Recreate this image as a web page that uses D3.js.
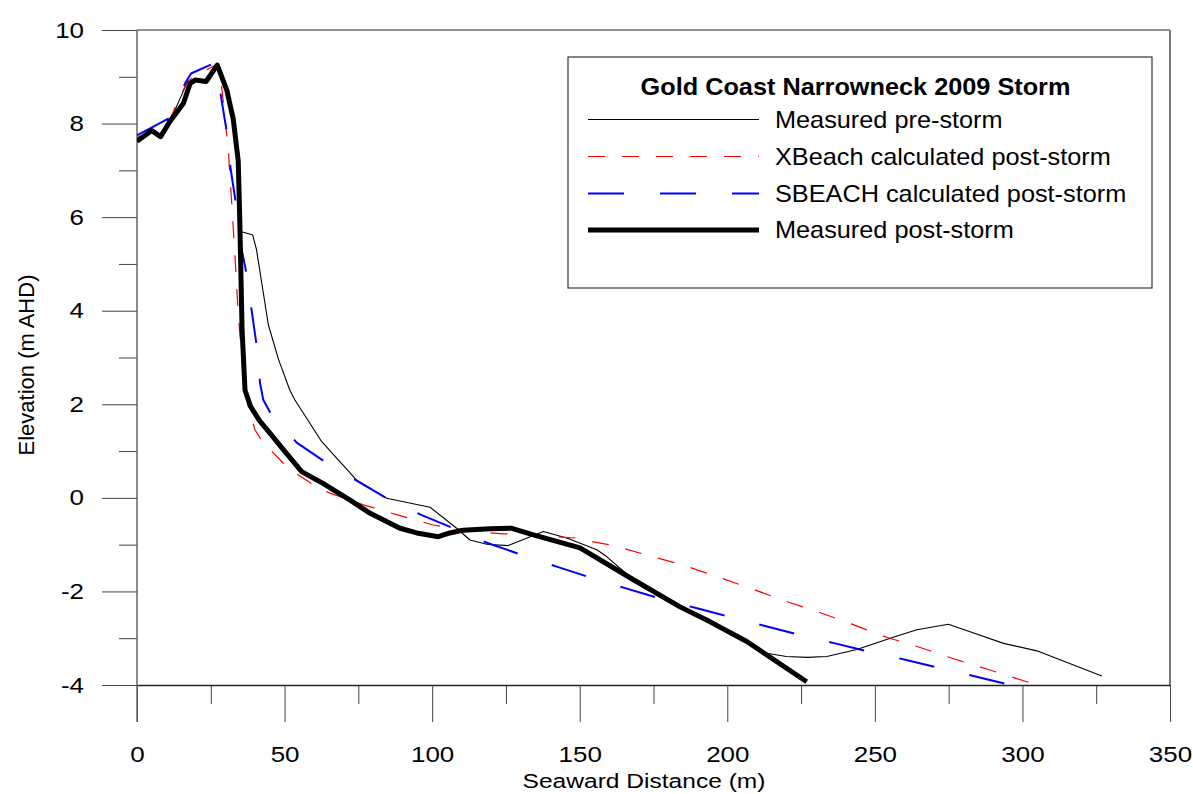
<!DOCTYPE html>
<html>
<head>
<meta charset="utf-8">
<script src="https://cdn.jsdelivr.net/npm/d3@7"></script>
<style>
  html, body { margin: 0; padding: 0; background: #fff; }
  svg { display: block; font-family: "Liberation Sans", Arial, sans-serif; }
</style>
</head>
<body>
<svg id="chart" width="1193" height="794"></svg>
<script>
// ---- Data ----
const seriesNames = ["Measured pre-storm", "XBeach calculated post-storm", "SBEACH calculated post-storm", "Measured post-storm"];
const legendTitle = "Gold Coast Narrowneck 2009 Storm";
const xTicks = [0, 50, 100, 150, 200, 250, 300, 350];
const xMinorTicks = [25, 75, 125, 175, 225, 275, 325];
const yTicks = [-4, -2, 0, 2, 4, 6, 8, 10];
const yMinorTicks = [-3, -1, 1, 3, 5, 7, 9];

const preDist = [0, 5, 8, 11.2, 17, 19.7, 23.4, 27.2, 30.4, 32.6, 34.3, 34.9, 39.2, 40.5, 44.5, 48, 51.8, 53.5, 62.6, 74.4, 84.6, 99.3, 108.3, 112.8, 118.5, 125.8, 137.7, 145.6, 155.8, 159.2, 168.2, 184, 194.2, 206.6, 213.4, 220, 227, 233.7, 243.9, 255.2, 264.2, 274.9, 283, 293.6, 304.9, 326.9];
const preElev = [7.62, 7.85, 7.72, 8.05, 8.88, 8.93, 8.9, 9.25, 8.72, 8.1, 7.2, 5.7, 5.62, 5.3, 3.7, 2.95, 2.3, 2.09, 1.2, 0.38, -0.01, -0.2, -0.65, -0.9, -0.99, -1.02, -0.72, -0.86, -1.11, -1.26, -1.75, -2.33, -2.65, -3.07, -3.32, -3.39, -3.41, -3.39, -3.24, -3.0, -2.82, -2.7, -2.88, -3.11, -3.27, -3.81];

const xbDist = [0, 5, 11.2, 17, 22, 27.2, 28.5, 30.9, 32.1, 33.2, 34.3, 35.7, 37.5, 40, 43, 45.6, 49.6, 54.7, 59.8, 65.4, 76.7, 88.5, 100.4, 106.6, 115, 124.1, 129.8, 142.2, 148.9, 154.6, 160.8, 172.7, 184.6, 196.4, 207.7, 219, 230.9, 242.2, 254, 265.9, 277.2, 289, 300.4, 305.1];
const xbElev = [7.7, 7.85, 8.1, 8.9, 9.1, 9.27, 8.9, 7.47, 6.3, 5.15, 3.95, 2.84, 2.0, 1.45, 1.15, 1.0, 0.74, 0.49, 0.28, 0.1, -0.15, -0.37, -0.58, -0.65, -0.72, -0.77, -0.77, -0.83, -0.86, -0.94, -1.01, -1.22, -1.43, -1.68, -1.93, -2.19, -2.44, -2.7, -2.98, -3.21, -3.45, -3.68, -3.91, -4.0];

const sbDist = [0, 11, 16.3, 18.3, 26.5, 28.4, 30.4, 31.7, 33.5, 35.5, 37.2, 38.9, 40.6, 41.7, 42.8, 45, 54.1, 63.7, 74.4, 84.6, 96.5, 107.2, 119, 130.4, 142.2, 153.5, 165.4, 177.2, 189.1, 200.7, 212.8, 224.6, 236.5, 248.2, 260.3, 272.2, 284.1, 295.8];
const sbElev = [7.75, 8.12, 8.86, 9.07, 9.3, 8.6, 7.83, 7.04, 6.3, 5.3, 4.76, 3.98, 3.23, 2.45, 2.09, 1.84, 1.18, 0.77, 0.37, -0.01, -0.37, -0.65, -0.97, -1.22, -1.47, -1.7, -1.93, -2.15, -2.35, -2.54, -2.74, -2.93, -3.11, -3.29, -3.46, -3.64, -3.82, -4.0];

const postDist = [0, 5, 8, 11.2, 15.7, 18, 19.7, 23.4, 27.2, 30.4, 32.6, 34.3, 34.8, 35.6, 36.6, 38.5, 41.5, 45.1, 50, 55.8, 63, 72.2, 79, 89.1, 94.8, 102.1, 106, 110.5, 119.6, 127, 134.3, 150.1, 168.2, 184, 194.2, 206.6, 226.9];
const postElev = [7.62, 7.85, 7.72, 8.05, 8.43, 8.86, 8.93, 8.9, 9.25, 8.72, 8.1, 7.2, 6.0, 3.6, 2.3, 1.95, 1.65, 1.38, 1.0, 0.56, 0.31, -0.05, -0.33, -0.65, -0.75, -0.83, -0.75, -0.69, -0.66, -0.65, -0.79, -1.07, -1.75, -2.33, -2.65, -3.07, -3.93];

// ---- Layout ----
const svg = d3.select("#chart");
const L = 137, R = 1170, T = 30, B = 685;
const x = d3.scaleLinear().domain([0, 350]).range([L, R]);
const y = d3.scaleLinear().domain([-4, 10]).range([B, T]);
const axisColor = "#444";
const fmt = d => String(d);

// clip
svg.append("defs").append("clipPath").attr("id", "plotclip")
  .append("rect").attr("x", L).attr("y", T).attr("width", R - L).attr("height", B - T);

// frame (top & right)
svg.append("line").attr("x1", L).attr("x2", R).attr("y1", T).attr("y2", T)
  .attr("stroke", "#222").attr("stroke-width", 1);
svg.append("line").attr("x1", R).attr("x2", R).attr("y1", T).attr("y2", B)
  .attr("stroke", "#777").attr("stroke-width", 2);

// x axis minor ticks
const gxMinor = svg.append("g").attr("transform", `translate(0,${B})`)
  .call(d3.axisBottom(x).tickValues(xMinorTicks).tickSize(19).tickSizeOuter(0).tickFormat(""));
gxMinor.select(".domain").remove();
gxMinor.selectAll("line").attr("stroke", axisColor);

// x axis major
const gx = svg.append("g").attr("transform", `translate(0,${B})`)
  .call(d3.axisBottom(x).tickValues(xTicks).tickSize(37).tickSizeOuter(0).tickFormat(fmt));
gx.select(".domain").attr("stroke", "#222").attr("stroke-width", 1.5);
gx.selectAll("line").attr("stroke", axisColor);
gx.selectAll("text")
  .attr("y", 0).attr("dy", 0)
  .attr("transform", "translate(0,77) scale(1.18,1)")
  .attr("fill", "#000")
  .style("font-size", "22px").style("font-family", "'Liberation Sans', Arial, sans-serif");

// y axis minor
const gyMinor = svg.append("g").attr("transform", `translate(${L},0)`)
  .call(d3.axisLeft(y).tickValues(yMinorTicks).tickSize(18).tickSizeOuter(0).tickFormat(""));
gyMinor.select(".domain").remove();
gyMinor.selectAll("line").attr("stroke", axisColor);

// y axis major
const gy = svg.append("g").attr("transform", `translate(${L},0)`)
  .call(d3.axisLeft(y).tickValues(yTicks).tickSize(35).tickSizeOuter(0).tickFormat(fmt));
gy.select(".domain").attr("stroke", "#666").attr("stroke-width", 1.5)
  .attr("d", `M0,${T}V${B + 37}`);
gy.selectAll("line").attr("stroke", axisColor);
gy.selectAll("text")
  .attr("x", 0).attr("dy", 0)
  .attr("transform", "translate(-53,7) scale(1.18,1)")
  .attr("fill", "#000")
  .style("font-size", "22px").style("font-family", "'Liberation Sans', Arial, sans-serif");

// axis titles
svg.append("text").attr("text-anchor", "middle")
  .attr("transform", `translate(644,788) scale(1.17,1)`)
  .style("font-size", "21px").text("Seaward Distance (m)");
svg.append("text").attr("text-anchor", "middle")
  .attr("transform", `translate(34,365) rotate(-90)`)
  .style("font-size", "22px").text("Elevation (m AHD)");

// ---- Lines ----
const styles = [
  { stroke: "#000", width: 1.1, dash: null },
  { stroke: "#ff0000", width: 1.2, dash: "17,17" },
  { stroke: "#0000ff", width: 2, dash: "36,36" },
  { stroke: "#000", width: 5, dash: null }
];
const series = [
  d3.zip(preDist, preElev),
  d3.zip(xbDist, xbElev),
  d3.zip(sbDist, sbElev),
  d3.zip(postDist, postElev)
];
const line = d3.line().x(d => x(d[0])).y(d => y(d[1]));
const gLines = svg.append("g").attr("clip-path", "url(#plotclip)");
series.forEach((s, i) => {
  gLines.append("path").datum(s)
    .attr("d", line)
    .attr("fill", "none")
    .attr("stroke", styles[i].stroke)
    .attr("stroke-width", styles[i].width)
    .attr("stroke-dasharray", styles[i].dash)
    .attr("stroke-linejoin", "round");
});

// ---- Legend ----
const lg = svg.append("g");
lg.append("rect").attr("x", 568).attr("y", 57).attr("width", 584).attr("height", 231)
  .attr("fill", "#fff").attr("stroke", "#333").attr("stroke-width", 1.2);
lg.append("text").attr("text-anchor", "middle")
  .attr("transform", "translate(855.5,95) scale(1.1,1)")
  .style("font-size", "23px").style("font-weight", "bold").text(legendTitle);
const rowY = [119.5, 156.5, 193.5, 230];
seriesNames.forEach((name, i) => {
  lg.append("line").attr("x1", 588).attr("x2", 759).attr("y1", rowY[i]).attr("y2", rowY[i])
    .attr("stroke", styles[i].stroke)
    .attr("stroke-width", styles[i].width)
    .attr("stroke-dasharray", styles[i].dash);
  lg.append("text")
    .attr("transform", `translate(775,${rowY[i] + 8}) scale(1.1,1)`)
    .style("font-size", "23px").text(name);
});
</script>
</body>
</html>
